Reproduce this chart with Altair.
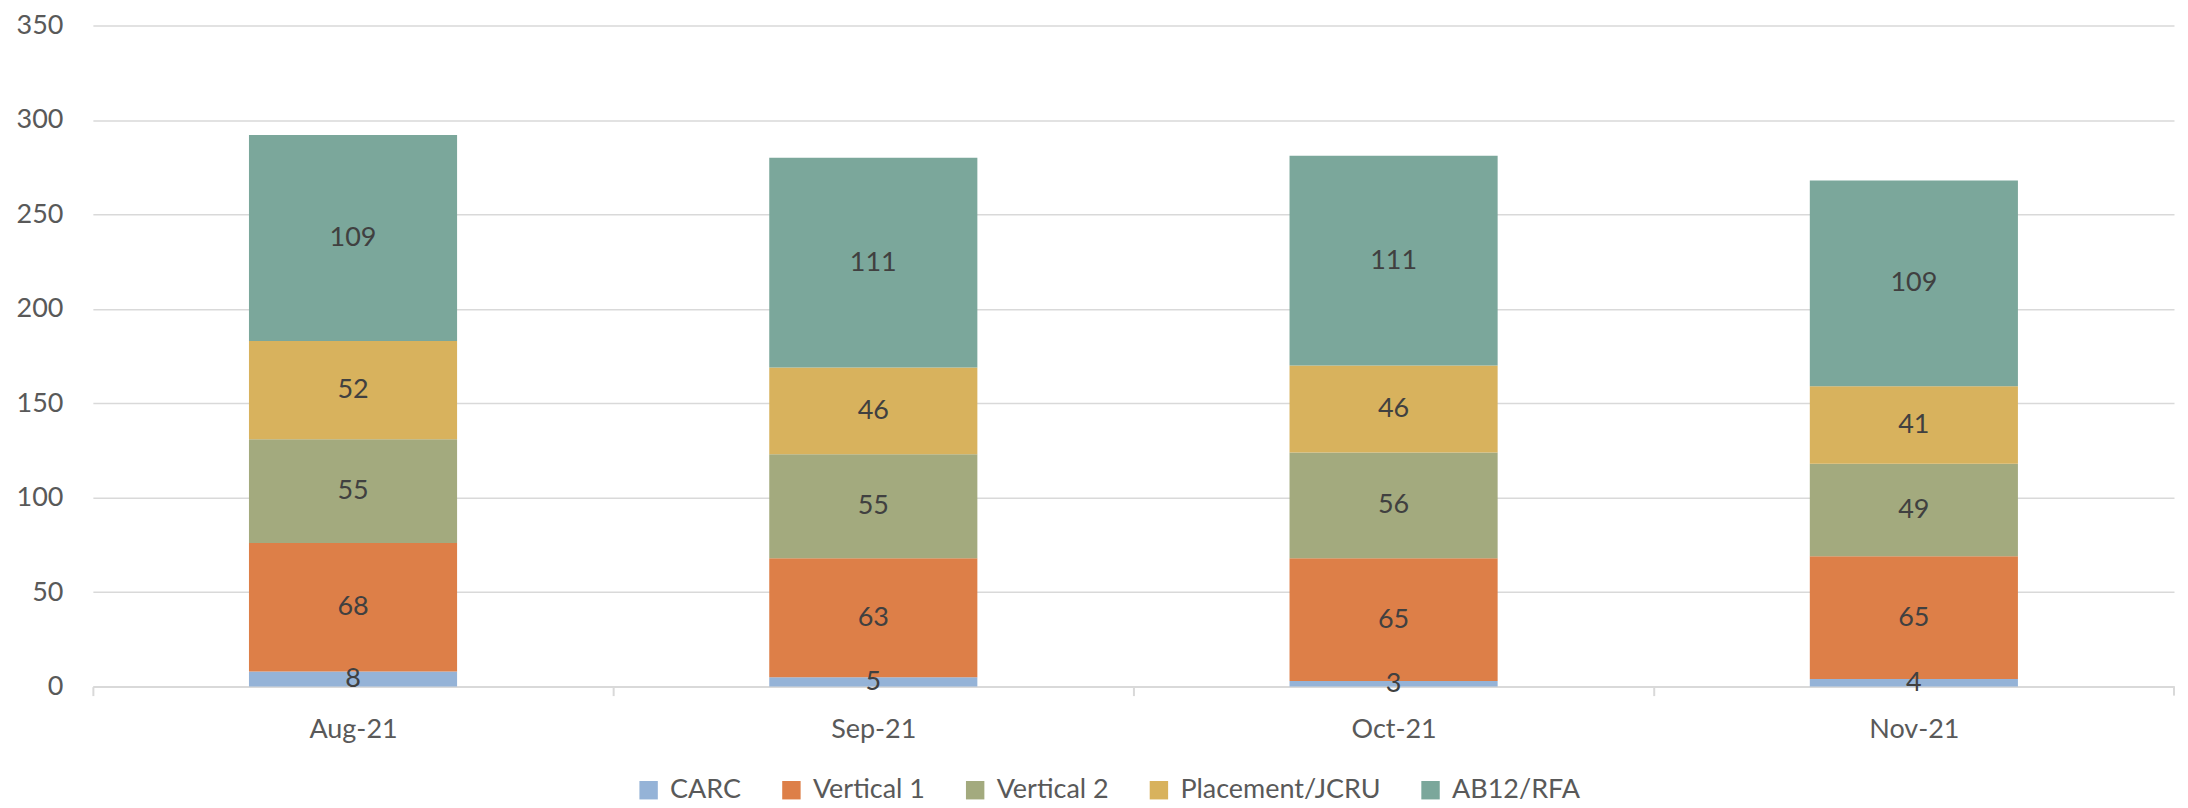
import altair as alt
import pandas as pd

months = ["Aug-21", "Sep-21", "Oct-21", "Nov-21"]
series = ["CARC", "Vertical 1", "Vertical 2", "Placement/JCRU", "AB12/RFA"]
carc = [8, 5, 3, 4]
vertical1 = [68, 63, 65, 65]
vertical2 = [55, 55, 56, 49]
placement = [52, 46, 46, 41]
ab12 = [109, 111, 111, 109]
colors = ["#95B3D7", "#DD7F48", "#A3AA7E", "#D8B25D", "#7BA79B"]
y_ticks = [0, 50, 100, 150, 200, 250, 300, 350]

values = [carc, vertical1, vertical2, placement, ab12]
rows = []
for si, (s, vals) in enumerate(zip(series, values)):
    for m, v in zip(months, vals):
        rows.append({"month": m, "series": s, "value": v, "order": si})
df = pd.DataFrame(rows)

FONT = "Lato"
FS = 27
W, H = 2084, 662
step = W / (4 - 0.6 + 0.6)

base = alt.Chart(df)

x_enc = alt.X("month:N", sort=months, title=None,
              scale=alt.Scale(paddingInner=0.6, paddingOuter=0.3),
              axis=alt.Axis(labelAngle=0, labelFontSize=FS, labelColor="#595959",
                            labelFont=FONT, domainColor="#D9D9D9", domainWidth=2,
                            tickColor="#D9D9D9", tickWidth=2, tickSize=9,
                            tickOffset=-step / 2, labelOffset=step / 2,
                            labelPadding=21, grid=False))

bars = base.mark_bar().encode(
    x=x_enc,
    y=alt.Y("value:Q", stack="zero", title=None,
            scale=alt.Scale(domain=[0, 350], nice=False),
            axis=alt.Axis(values=y_ticks, labelFontSize=FS,
                          labelColor="#595959", labelFont=FONT, domain=False,
                          ticks=False, gridColor="#D9D9D9", gridWidth=1.5,
                          labelPadding=30, minExtent=80, maxExtent=80)),
    color=alt.Color("series:N", sort=series,
                    scale=alt.Scale(domain=series, range=colors),
                    legend=alt.Legend(orient="none", direction="horizontal",
                                      legendX=543, legendY=752, title=None,
                                      symbolType="square", symbolSize=340,
                                      symbolStrokeWidth=0, labelFontSize=FS,
                                      labelFont=FONT, labelColor="#595959",
                                      labelLimit=0,
                                      columnPadding=36, labelOffset=8)),
    order=alt.Order("order:Q"),
)

labels = base.transform_window(
    cum="sum(value)", groupby=["month"], sort=[alt.SortField("order")]
).transform_calculate(
    mid="datum.cum - datum.value / 2"
).mark_text(fontSize=FS, font=FONT, color="#404040", baseline="middle").encode(
    x=alt.X("month:N", sort=months),
    y=alt.Y("mid:Q"),
    text=alt.Text("value:Q"),
)

end_tick = alt.Chart(pd.DataFrame({"t": [0]})).mark_rule(
    color="#D9D9D9", strokeWidth=2
).encode(x=alt.value(W), y=alt.value(H), y2=alt.value(H + 9))

chart = alt.layer(bars, labels, end_tick).properties(
    width=W, height=H,
    padding={"left": 5, "top": 3, "right": 5, "bottom": 0},
).configure(font=FONT, view=alt.ViewConfig(stroke=None))

chart.save("out.html", embed_options={"renderer": "svg", "actions": False})
